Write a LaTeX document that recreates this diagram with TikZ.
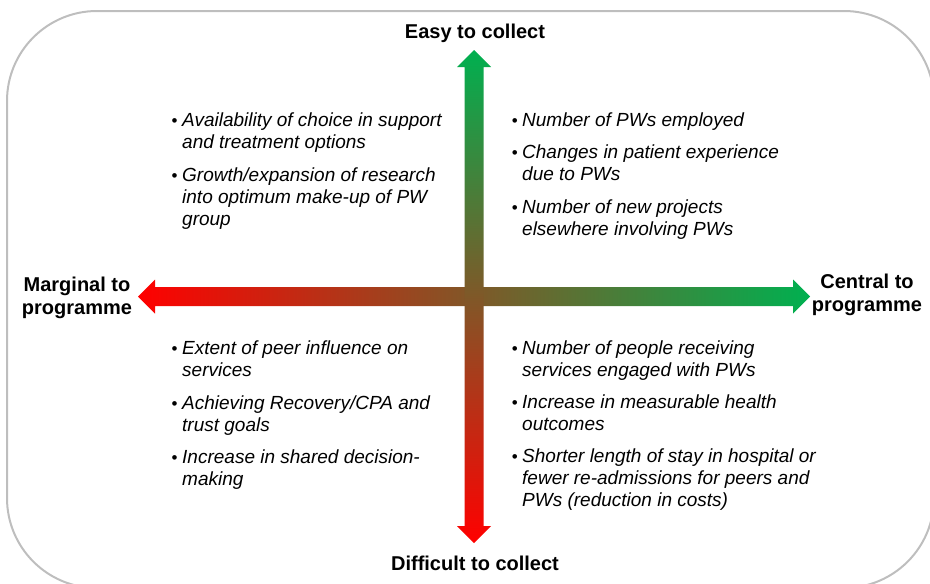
\documentclass[tikz,border=0pt]{standalone}
\usepackage{fontspec}
\usetikzlibrary{calc}
\setmainfont{Liberation Sans}
\definecolor{axisred}{RGB}{255,0,0}
\definecolor{axisgreen}{RGB}{0,176,80}
\definecolor{framegray}{RGB}{190,190,190}
% multi-line block whose baseline is that of its first line
\newcommand\blines[1]{\begin{tabular}[t]{@{}l@{}}#1\end{tabular}}
\newcommand\clines[1]{\begin{tabular}[t]{@{}c@{}}#1\end{tabular}}
% bullet hanging to the left of the first line
\newcommand\bul{\makebox[0pt][r]{\upshape\fontsize{17}{17}\selectfont\textbullet\hspace{4.5pt}}}
\begin{document}
\begin{tikzpicture}[x=1pt,y=-1pt,
  frame/.style={draw=framegray, line width=2pt, rounded corners=90pt},
  axislabel/.style={font=\fontsize{20}{23}\selectfont\bfseries, inner sep=0, anchor=base},
  itemtext/.style={font=\fontsize{19}{22}\selectfont\itshape, inner sep=0, anchor=base west},
]
\useasboundingbox (0,0) rectangle (930,584);
\clip (0,0) rectangle (930,584);

% rounded frame (runs past the right and bottom edges)
\draw[frame] (7,11) rectangle (934,588);

% arrow tips
\coordinate (W) at (138,296.5);
\coordinate (E) at (810,296.5);
\coordinate (N) at (474,50);
\coordinate (S) at (474,543);

% horizontal double arrow: marginal (red) to central (green)
\shade[left color=axisred, right color=axisgreen]
  (W) -- ++(17,-17) -- ++(0,7.5) -- ($(E)+(-17,-9.5)$) -- ++(0,-7.5) -- (E)
  -- ++(-17,17) -- ++(0,-7.5) -- ($(W)+(17,9.5)$) -- ++(0,7.5) -- cycle;

% vertical double arrow: easy (green) to difficult (red)
\shade[top color=axisgreen, bottom color=axisred]
  (N) -- ++(17,17) -- ++(-7.5,0) -- ($(S)+(9.5,-17)$) -- ++(7.5,0) -- (S)
  -- ++(-17,-17) -- ++(7.5,0) -- ($(N)+(-9.5,17)$) -- ++(-7.5,0) -- cycle;

% axis labels
\node[axislabel] (easy) at (475,38) {Easy to collect};
\node[axislabel] (difficult) at (475,570) {Difficult to collect};
\node[axislabel] (marginal) at (77,291) {\clines{Marginal to\\programme}};
\node[axislabel] (central) at (867,288) {\clines{Central to\\programme}};

% top left quadrant
\node[itemtext] (tl1) at (182,126) {\blines{\bul Availability of choice in support\\and treatment options}};
\node[itemtext] (tl2) at (182,181) {\blines{\bul Growth/expansion of research\\into optimum make-up of PW\\group}};

% top right quadrant
\node[itemtext] (tr1) at (522,126) {\blines{\bul Number of PWs employed}};
\node[itemtext] (tr2) at (522,158) {\blines{\bul Changes in patient experience\\due to PWs}};
\node[itemtext] (tr3) at (522,213) {\blines{\bul Number of new projects\\elsewhere involving PWs}};

% bottom left quadrant
\node[itemtext] (bl1) at (182,354) {\blines{\bul Extent of peer influence on\\services}};
\node[itemtext] (bl2) at (182,409) {\blines{\bul Achieving Recovery/CPA and\\trust goals}};
\node[itemtext] (bl3) at (182,463) {\blines{\bul Increase in shared decision-\\making}};

% bottom right quadrant
\node[itemtext] (br1) at (522,354) {\blines{\bul Number of people receiving\\services engaged with PWs}};
\node[itemtext] (br2) at (522,408) {\blines{\bul Increase in measurable health\\outcomes}};
\node[itemtext] (br3) at (522,462) {\blines{\bul Shorter length of stay in hospital or\\fewer re-admissions for peers and\\PWs (reduction in costs)}};
\end{tikzpicture}
\end{document}
